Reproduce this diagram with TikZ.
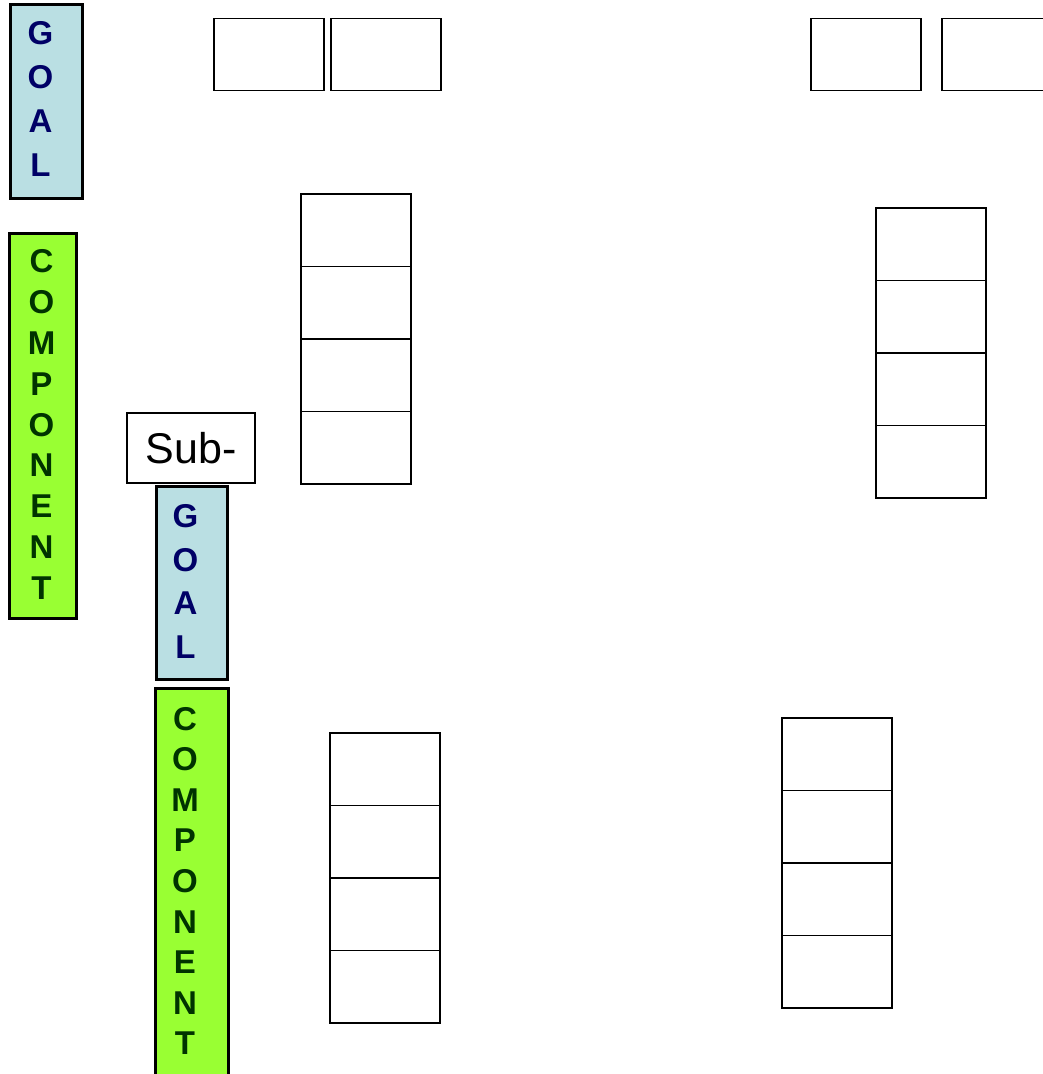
\documentclass[tikz,border=0pt]{standalone}
\usepackage{fontspec}
\setmainfont{Liberation Sans}
\definecolor{GoalBlue}{RGB}{186,223,227}
\definecolor{CompGreen}{RGB}{153,255,51}
\definecolor{GoalInk}{RGB}{0,0,102}
\definecolor{CompInk}{RGB}{0,51,0}
\usetikzlibrary{positioning}

\begin{document}
\begin{tikzpicture}[
    x=1pt, y=-1pt,
    node distance=0pt,
    slot/.style={rectangle, draw, line width=1.8pt,
                 minimum width=110pt, minimum height=72.5pt,
                 inner sep=0pt, outer sep=0pt},
    bar/.style={rectangle, draw, line width=3pt, inner sep=0pt, outer sep=0pt},
    goalbar/.style={bar, fill=GoalBlue},
    compbar/.style={bar, fill=CompGreen},
    goaltext/.style={align=center, inner sep=0pt, text=GoalInk,
                     font=\fontsize{33}{44}\selectfont\bfseries},
    comptext/.style={align=center, inner sep=0pt, text=CompInk,
                     font=\fontsize{33}{40.8}\selectfont\bfseries},
    tag/.style={rectangle, draw, line width=1.8pt, fill=white,
                minimum width=128pt, minimum height=70pt, inner sep=0pt,
                font=\fontsize{43}{43}\selectfont}
  ]
    \useasboundingbox (0,0) rectangle (1043,1074);

    % left column: goal and component
    \node[goalbar, minimum width=72pt, minimum height=194pt] (goal) at (46.5,101.5) {};
    \node[goaltext] (goaltxt) at ([xshift=-6pt,yshift=2.5pt]goal.center) {G\\O\\A\\L};
    \node[compbar, minimum width=67pt, minimum height=385pt] (comp) at (43,426) {};
    \node[comptext] (comptxt) at ([xshift=-1.5pt,yshift=1.5pt]comp.center) {C\\O\\M\\P\\O\\N\\E\\N\\T};

    % sub goal and sub component
    \node[tag] (sub) at (191,448) {Sub-};
    \node[goalbar, minimum width=71pt, minimum height=193pt] (subgoal) at (192,583) {};
    \node[goaltext, font=\fontsize{33}{43.5}\selectfont\bfseries] (subgoaltxt)
      at ([xshift=-6.5pt,yshift=1.5pt]subgoal.center) {G\\O\\A\\L};
    \node[compbar, minimum width=73pt, minimum height=400pt] (subcomp) at (192,888.5) {};
    \node[comptext, font=\fontsize{33}{40.6}\selectfont\bfseries] (subcomptxt)
      at ([xshift=-7pt,yshift=7.5pt]subcomp.center) {C\\O\\M\\P\\O\\N\\E\\N\\T};

    % top pairs
    \node[slot, minimum height=72pt] (top1) at (269,54.5) {};
    \node[slot, minimum height=72pt, right=7pt of top1] (top2) {};
    \node[slot, minimum height=72pt] (top3) at (866,54.5) {};
    \node[slot, minimum height=72pt, right=21pt of top3] (top4) {};

    % stacks
    \node[slot] (a1) at (356,230.25) {};
    \node[slot, below=of a1] (a2) {};
    \node[slot, below=of a2] (a3) {};
    \node[slot, below=of a3] (a4) {};

    \node[slot] (b1) at (931,244.25) {};
    \node[slot, below=of b1] (b2) {};
    \node[slot, below=of b2] (b3) {};
    \node[slot, below=of b3] (b4) {};

    \node[slot] (c1) at (385,769.25) {};
    \node[slot, below=of c1] (c2) {};
    \node[slot, below=of c2] (c3) {};
    \node[slot, below=of c3] (c4) {};

    \node[slot] (d1) at (837,754.25) {};
    \node[slot, below=of d1] (d2) {};
    \node[slot, below=of d2] (d3) {};
    \node[slot, below=of d3] (d4) {};
  \end{tikzpicture}
\end{document}
